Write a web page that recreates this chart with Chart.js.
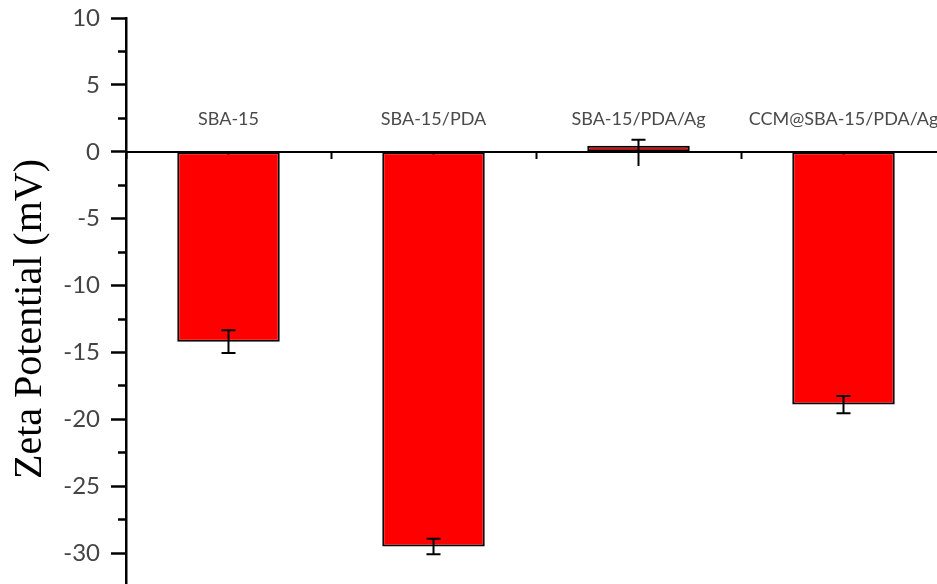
<!DOCTYPE html>
<html>
<head>
<meta charset="utf-8">
<script src="https://cdn.jsdelivr.net/npm/chart.js@4"></script>
<style>
    html, body { margin: 0; padding: 0; background: #fff; overflow: hidden; }
    #wrap { width: 946px; height: 640px; }
</style>
</head>
<body>
<div id="wrap"><canvas id="zeta-chart" width="946" height="640"></canvas></div>
<script>
// Zeta potential of the four samples (mV)
const categories = ["SBA-15", "SBA-15/PDA", "SBA-15/PDA/Ag", "CCM@SBA-15/PDA/Ag"];
const zetaValues = [-14.2, -29.5, 0.45, -18.9];
const zetaErrors = [0.85, 0.58, 0.45, 0.65];

const yMin = -35;
const yMax = 10;

const tickFont = { family: "Lato", size: 24 };
const labelFont = { family: "Lato", size: 18 };

// Error bars drawn on top of the bars
const errorBars = {
    id: "errorBars",
    afterDatasetsDraw(chart) {
        const { ctx, scales } = chart;
        const meta = chart.getDatasetMeta(0);
        ctx.save();
        ctx.strokeStyle = "#000";
        ctx.lineWidth = 2;
        meta.data.forEach((bar, i) => {
            const top = scales.y.getPixelForValue(zetaValues[i] + zetaErrors[i]);
            const bottom = scales.y.getPixelForValue(zetaValues[i] - zetaErrors[i]);
            const x = bar.x;
            ctx.beginPath();
            ctx.moveTo(x, top);
            ctx.lineTo(x, bottom);
            ctx.moveTo(x - 7, top);
            ctx.lineTo(x + 7, top);
            ctx.moveTo(x - 7, bottom);
            ctx.lineTo(x + 7, bottom);
            ctx.stroke();
        });
        ctx.restore();
    },
};

const ctx = document.getElementById("zeta-chart").getContext("2d");

new Chart(ctx, {
    type: "bar",
    data: {
        labels: categories,
        datasets: [
            {
                label: "Zeta Potential",
                data: zetaValues,
                backgroundColor: "#ff0000",
                borderColor: "#000",
                borderWidth: 2,
                borderSkipped: false,
                barPercentage: 0.5,
                categoryPercentage: 1,
            },
        ],
    },
    options: {
        responsive: false,
        animation: false,
        layout: { padding: { top: 18, left: 0, right: 0, bottom: 20 } },
        plugins: {
            legend: { display: false },
            tooltip: { enabled: false },
        },
        scales: {
            x: {
                position: { y: 0 },
                offset: true,
                z: 1,
                afterFit: (scale) => { scale.height = 0; },
                grid: {
                    drawOnChartArea: false,
                    offset: false,
                    tickLength: 13,
                    tickWidth: 2,
                    tickColor: "#000",
                },
                border: { display: true, color: "#000", width: 2 },
                ticks: {
                    autoSkip: false,
                    maxRotation: 0,
                    padding: -56,
                    color: "#4a4a4a",
                    font: labelFont,
                },
            },
            x2: {
                type: "category",
                labels: categories,
                position: { y: 0 },
                offset: true,
                z: 1,
                afterFit: (scale) => { scale.height = 0; },
                grid: {
                    drawOnChartArea: false,
                    offset: true,
                    tickLength: 7,
                    tickWidth: 2,
                    tickColor: "#000",
                },
                border: { display: false },
                ticks: { display: false },
            },
            y: {
                min: yMin,
                max: yMax,
                afterFit: (scale) => {
                    scale.width = 126;
                    scale.paddingTop = 0;
                    scale.paddingBottom = 0;
                },
                grid: {
                    drawOnChartArea: false,
                    tickLength: 15,
                    tickWidth: 2.5,
                    tickColor: "#000",
                    // minor ticks every 2.5 are shorter (tick is stroked from the outer end)
                    tickBorderDash: (c) => (c.tick && c.tick.value % 5 !== 0 ? [0, 7, 8, 100] : []),
                },
                border: { display: true, color: "#000", width: 2.5 },
                ticks: {
                    stepSize: 2.5,
                    padding: 11,
                    color: "#444",
                    font: tickFont,
                    callback: (v) => (v % 5 === 0 ? v : ""),
                },
                title: {
                    display: true,
                    text: "Zeta Potential (mV)",
                    color: "#000",
                    font: { family: "Liberation Serif", size: 40 },
                    padding: { top: 6, bottom: 0 },
                },
            },
        },
    },
    plugins: [errorBars],
});
</script>
</body>
</html>
